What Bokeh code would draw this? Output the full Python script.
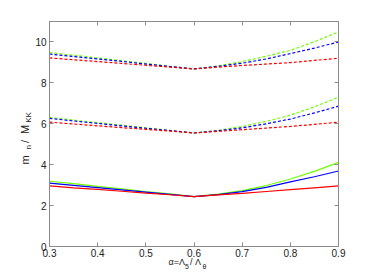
from bokeh.plotting import figure
from bokeh.models import Range1d, LinearAxis, FixedTicker, CustomJSTickFormatter, Title
from bokeh.embed import file_html
from bokeh.resources import INLINE

# ---- data ----
alpha = [0.3, 0.35, 0.4, 0.45, 0.5, 0.55, 0.6, 0.65, 0.7, 0.75, 0.8, 0.85, 0.9]

n1_green = [3.19, 3.07, 2.94, 2.82, 2.69, 2.57, 2.44, 2.56, 2.73, 2.98, 3.30, 3.67, 4.11]
n1_blue  = [3.10, 2.99, 2.88, 2.77, 2.66, 2.55, 2.44, 2.54, 2.68, 2.89, 3.16, 3.41, 3.69]
n1_red   = [2.96, 2.87, 2.79, 2.70, 2.61, 2.53, 2.44, 2.52, 2.60, 2.69, 2.78, 2.87, 2.96]

n2_green = [6.31, 6.18, 6.05, 5.93, 5.80, 5.68, 5.55, 5.68, 5.87, 6.12, 6.42, 6.83, 7.30]
n2_blue  = [6.26, 6.14, 6.02, 5.90, 5.78, 5.67, 5.55, 5.66, 5.80, 6.00, 6.23, 6.53, 6.86]
n2_red   = [6.08, 5.99, 5.90, 5.81, 5.73, 5.64, 5.55, 5.63, 5.71, 5.79, 5.87, 5.97, 6.08]

n3_green = [9.48, 9.35, 9.22, 9.08, 8.95, 8.81, 8.68, 8.83, 9.04, 9.30, 9.59, 10.01, 10.49]
n3_blue  = [9.41, 9.29, 9.17, 9.05, 8.92, 8.80, 8.68, 8.81, 8.96, 9.17, 9.43, 9.70, 10.00]
n3_red   = [9.22, 9.13, 9.04, 8.95, 8.86, 8.77, 8.68, 8.77, 8.85, 8.92, 8.99, 9.10, 9.20]

x_ticks = [0.3, 0.4, 0.5, 0.6, 0.7, 0.8, 0.9]
y_ticks = [0, 2, 4, 6, 8, 10]

# axis titles, split into a main line and a subscript line (non-breaking spaces keep gaps)
NB = "\u00a0"
x_title_main = "α=Λ" + NB * 2 + "/" + NB + "Λ"
x_title_sub = "5" + NB * 7 + "θ"
y_title_main = "m" + NB * 4 + "/" + NB * 2 + "M"
y_title_sub = "n" + NB * 10 + "KK"

GREEN = "#70ff00"
BLUE = "#0000ff"
RED = "#ff0000"
AXIS_GRAY = "#8c8c8c"
TEXT = "#222222"
FONT = "Liberation Sans"

p = figure(frame_width=289, frame_height=225,
           x_range=Range1d(0.3, 0.9), y_range=Range1d(0, 11),
           output_backend="svg", toolbar_location=None,
           min_border_left=49, min_border_right=36,
           min_border_top=21, min_border_bottom=31)
p.grid.visible = False
p.outline_line_color = AXIS_GRAY

series = [
    (n1_green, GREEN, "solid"), (n1_blue, BLUE, "solid"), (n1_red, RED, "solid"),
    (n2_green, GREEN, "3 2"), (n2_blue, BLUE, "3 2"), (n2_red, RED, "3 2"),
    (n3_green, GREEN, "3 2"), (n3_blue, BLUE, "3 2"), (n3_red, RED, "3 2"),
]
for ys, col, dash in series:
    p.line(alpha, ys, line_color=col, line_width=1.2, line_dash=dash)

def style_axis(ax, labels=True):
    ax.axis_line_color = AXIS_GRAY
    ax.major_tick_line_color = AXIS_GRAY
    ax.major_tick_in = 4
    ax.major_tick_out = 0
    ax.minor_tick_line_color = None
    ax.major_label_text_font = FONT
    ax.major_label_text_font_size = "10px"
    ax.major_label_text_color = TEXT
    ax.major_label_standoff = 3
    if not labels:
        ax.formatter = CustomJSTickFormatter(code="return ''")
        ax.major_label_standoff = 0

p.xaxis.ticker = FixedTicker(ticks=x_ticks)
p.yaxis.ticker = FixedTicker(ticks=y_ticks)
style_axis(p.xaxis[0])
style_axis(p.yaxis[0])
p.xaxis.major_label_standoff = 2

top = LinearAxis(ticker=FixedTicker(ticks=x_ticks))
right = LinearAxis(ticker=FixedTicker(ticks=y_ticks))
style_axis(top, labels=False)
style_axis(right, labels=False)
p.add_layout(top, "above")
p.add_layout(right, "right")

def add_title(txt, side, fs, off, standoff):
    p.add_layout(Title(text=txt, text_font=FONT, text_font_size=f"{fs}px",
                       text_font_style="normal", text_color=TEXT,
                       align="left", offset=off, standoff=standoff,
                       vertical_align="middle"), side)

add_title(x_title_main, "below", 9, 119, -7.1)
add_title(x_title_sub, "below", 7, 135.5, -5.4)
add_title(y_title_sub, "left", 8, 97, -3.2)
add_title(y_title_main, "left", 11, 82, -14.1)

open("out.html", "w").write(file_html(p, INLINE))
